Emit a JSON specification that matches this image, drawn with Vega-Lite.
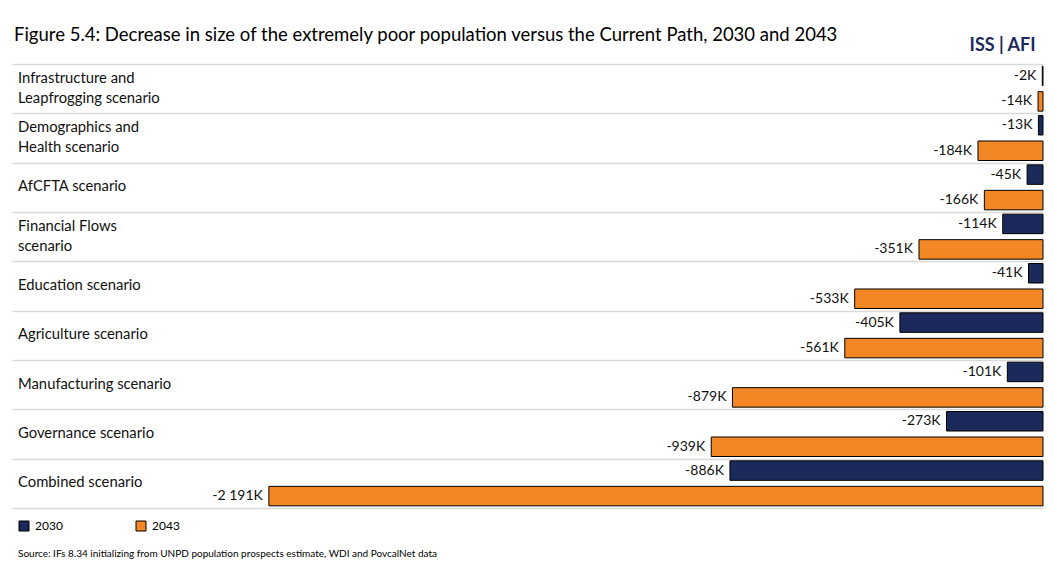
{
  "$schema": "https://vega.github.io/schema/vega-lite/v6.json",
  "width": 1031,
  "height": 444,
  "autosize": {"type": "none"},
  "padding": {"left": 12, "top": 64, "right": 12, "bottom": 76},
  "background": "white",
  "config": {"font": "Lato", "view": {"stroke": null}},
  "title": {
    "text": "Figure 5.4: Decrease in size of the extremely poor population versus the Current Path, 2030 and 2043",
    "anchor": "start",
    "frame": "group",
    "fontSize": 18.5,
    "fontWeight": "normal",
    "color": "#000000",
    "offset": -8,
    "dx": 2
  },
  "data": {
    "values": [
      {"scenario": "Infrastructure and\nLeapfrogging scenario", "year": "2030", "value": -2, "label": "-2K"},
      {"scenario": "Infrastructure and\nLeapfrogging scenario", "year": "2043", "value": -14, "label": "-14K"},
      {"scenario": "Demographics and\nHealth scenario", "year": "2030", "value": -13, "label": "-13K"},
      {"scenario": "Demographics and\nHealth scenario", "year": "2043", "value": -184, "label": "-184K"},
      {"scenario": "AfCFTA scenario", "year": "2030", "value": -45, "label": "-45K"},
      {"scenario": "AfCFTA scenario", "year": "2043", "value": -166, "label": "-166K"},
      {"scenario": "Financial Flows\nscenario", "year": "2030", "value": -114, "label": "-114K"},
      {"scenario": "Financial Flows\nscenario", "year": "2043", "value": -351, "label": "-351K"},
      {"scenario": "Education scenario", "year": "2030", "value": -41, "label": "-41K"},
      {"scenario": "Education scenario", "year": "2043", "value": -533, "label": "-533K"},
      {"scenario": "Agriculture scenario", "year": "2030", "value": -405, "label": "-405K"},
      {"scenario": "Agriculture scenario", "year": "2043", "value": -561, "label": "-561K"},
      {"scenario": "Manufacturing scenario", "year": "2030", "value": -101, "label": "-101K"},
      {"scenario": "Manufacturing scenario", "year": "2043", "value": -879, "label": "-879K"},
      {"scenario": "Governance scenario", "year": "2030", "value": -273, "label": "-273K"},
      {"scenario": "Governance scenario", "year": "2043", "value": -939, "label": "-939K"},
      {"scenario": "Combined scenario", "year": "2030", "value": -886, "label": "-886K"},
      {"scenario": "Combined scenario", "year": "2043", "value": -2191, "label": "-2 191K"}
    ]
  },
  "encoding": {
    "y": {
      "field": "scenario",
      "type": "nominal",
      "sort": null,
      "scale": {"paddingInner": 0, "paddingOuter": 0},
      "axis": {
        "orient": "left",
        "title": null,
        "grid": true,
        "tickBand": "extent",
        "gridColor": "#d9d9d9",
        "gridWidth": 1.5,
        "domain": false,
        "ticks": false,
        "labels": false
      }
    }
  },
  "layer": [
    {
      "mark": {"type": "bar", "stroke": "#000000", "strokeWidth": 1},
      "encoding": {
        "yOffset": {
          "field": "year",
          "type": "nominal",
          "sort": ["2030", "2043"],
          "scale": {"paddingInner": 0.235, "paddingOuter": 0.085}
        },
        "x": {
          "field": "value",
          "type": "quantitative",
          "scale": {"domain": [-2918, 0], "nice": false, "zero": false},
          "axis": {
            "orient": "top",
            "labels": false,
            "ticks": false,
            "domain": false,
            "grid": false,
            "title": "ISS | AFI",
            "titleColor": "#1b2a5b",
            "titleFontSize": 18,
            "titleFontWeight": "bold",
            "titleAlign": "right",
            "titleBaseline": "middle",
            "titleX": 1023,
            "titleY": -19
          }
        },
        "color": {
          "field": "year",
          "type": "nominal",
          "scale": {"domain": ["2030", "2043"], "range": ["#1b2a5b", "#f38625"]},
          "legend": {
            "orient": "bottom",
            "direction": "horizontal",
            "title": "Source: IFs 8.34 initializing from UNPD population prospects estimate, WDI and PovcalNet data",
            "titleOrient": "bottom",
            "titleAnchor": "start",
            "titleFontSize": 10,
            "titleFontWeight": "normal",
            "titleColor": "#000000",
            "titlePadding": 16,
            "titleLimit": 0,
            "labelFontSize": 12,
            "labelColor": "#000000",
            "labelOffset": 5,
            "symbolType": "square",
            "symbolSize": 100,
            "symbolStrokeColor": "#000000",
            "symbolStrokeWidth": 1,
            "symbolOpacity": 1,
            "columnPadding": 71,
            "padding": 6,
            "offset": 6
          }
        }
      }
    },
    {
      "mark": {"type": "text", "align": "right", "baseline": "middle", "dx": -6, "fontSize": 14, "color": "#111111"},
      "encoding": {
        "yOffset": {"field": "year", "type": "nominal", "sort": ["2030", "2043"]},
        "x": {"field": "value", "type": "quantitative"},
        "text": {"field": "label", "type": "nominal"}
      }
    },
    {
      "transform": [{"filter": "datum.year == '2030' && indexof(datum.scenario, '\\n') < 0"}],
      "mark": {"type": "text", "align": "left", "baseline": "middle", "dx": 6, "fontSize": 14.8, "color": "#111111"},
      "encoding": {
        "x": {"datum": -2918},
        "text": {"field": "scenario", "type": "nominal"}
      }
    },
    {
      "transform": [{"filter": "datum.year == '2030' && indexof(datum.scenario, '\\n') >= 0"}],
      "mark": {"type": "text", "align": "left", "baseline": "middle", "dx": 6, "dy": -10, "fontSize": 14.8, "lineHeight": 20, "lineBreak": "\n", "color": "#111111"},
      "encoding": {
        "x": {"datum": -2918},
        "text": {"field": "scenario", "type": "nominal"}
      }
    }
  ]
}
